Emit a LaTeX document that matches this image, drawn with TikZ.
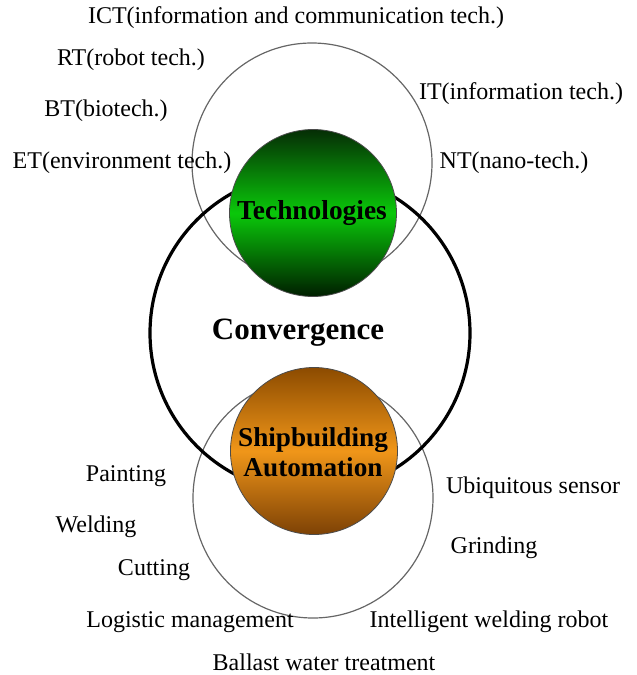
\documentclass[tikz,border=0pt]{standalone}
\usepackage{fontspec}
\setmainfont{Liberation Serif}
\usepackage{xcolor}
\usepackage{tikz}
\definecolor{techtop}{RGB}{5,45,5}
\definecolor{techmid}{RGB}{10,200,10}
\definecolor{techbot}{RGB}{0,30,0}
\definecolor{shiptop}{RGB}{140,75,0}
\definecolor{shipmid}{RGB}{240,150,25}
\definecolor{shipbot}{RGB}{125,65,5}

\begin{document}
\begin{tikzpicture}[x=0.5pt, y=-0.5pt, font=\fontsize{12}{14}\selectfont]
            \useasboundingbox (0,0) rectangle (637,675);
            \draw[black!60, line width=0.6pt] (312,163) circle[radius=120];
            \draw[black!60, line width=0.6pt] (313,498) circle[radius=120];
            \draw[line width=1.6pt] (310,333) circle[radius=160];
            \shadedraw[top color=techtop, bottom color=techbot, middle color=techmid, draw=black!70, thin] (313,213) circle[radius=83.5];
            \shadedraw[top color=shiptop, bottom color=shipbot, middle color=shipmid, draw=black!70, thin] (314,451) circle[radius=83.5];
            \node (ict) at (296,18) {ICT(information and communication tech.)};
            \node (rt) at (131,60) {RT(robot tech.)};
            \node (bt) at (106,111) {BT(biotech.)};
            \node (et) at (122,163) {ET(environment tech.)};
            \node (it) at (521,94) {IT(information tech.)};
            \node (nt) at (514,163) {NT(nano-tech.)};
            \node[font=\bfseries\fontsize{13.7}{16}\selectfont] (tech) at (312,213) {Technologies};
            \node[font=\bfseries\fontsize{15.5}{18}\selectfont] (conv) at (298,333) {Convergence};
            \node[align=center, font=\bfseries\fontsize{13.6}{15}\selectfont] (ship) at (313,452) {Shipbuilding\\Automation};
            \node (paint) at (126,476) {Painting};
            \node (weld) at (96,527) {Welding};
            \node (cut) at (154,570) {Cutting};
            \node (logi) at (190,622) {Logistic management};
            \node (ubi) at (533,488) {Ubiquitous sensor};
            \node (grind) at (494,548) {Grinding};
            \node (robot) at (489,622) {Intelligent welding robot};
            \node (ballast) at (324,662) {Ballast water treatment};
          \end{tikzpicture}
\end{document}
